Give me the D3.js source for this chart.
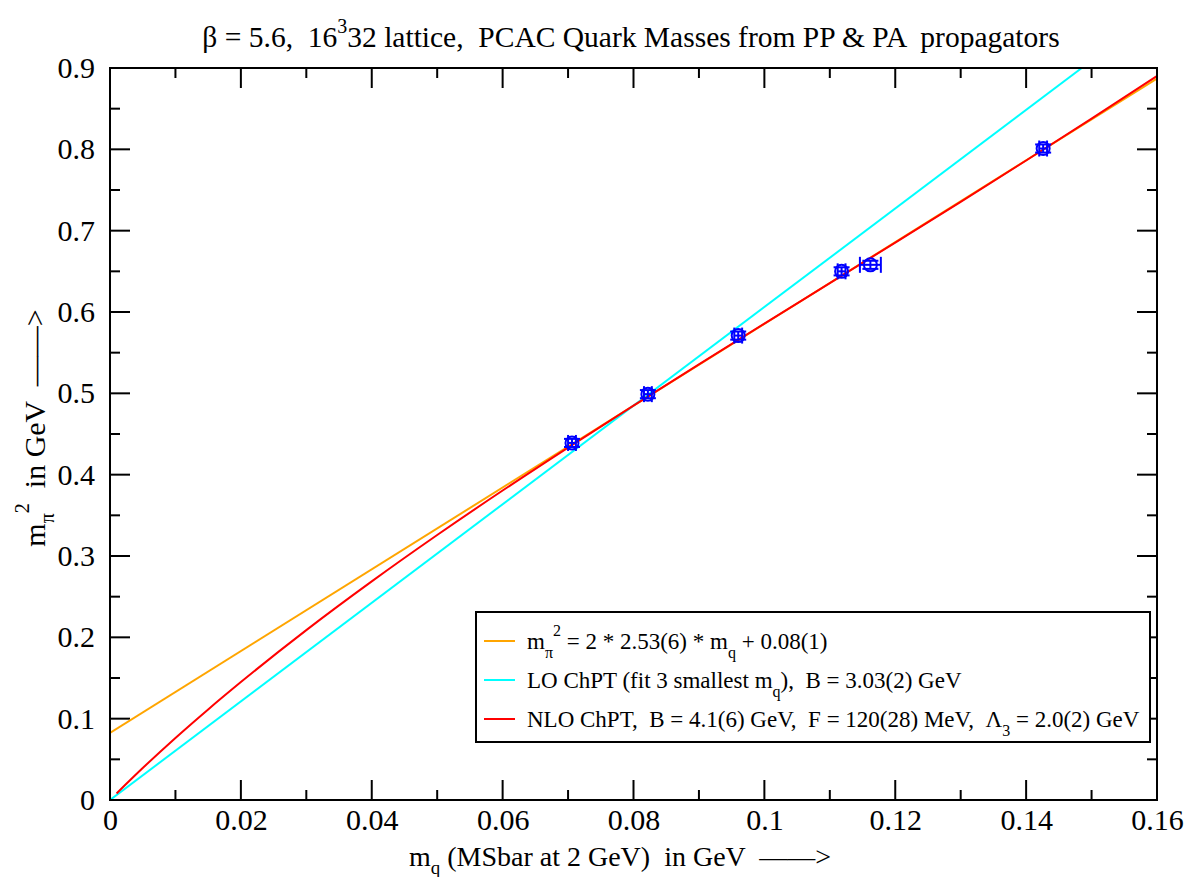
<!DOCTYPE html>
<html><head><meta charset="utf-8">
<script src="https://cdn.jsdelivr.net/npm/d3@7"></script>
<style>body{margin:0;background:#fff}svg{display:block}text{font-family:"Liberation Serif","DejaVu Serif",serif;white-space:pre}</style>
</head><body>
<script>
// ---- data ----
const mq       = [0.0706, 0.0822, 0.0960, 0.1118, 0.1162, 0.1426];
const mqErr    = [0.0006, 0.0006, 0.0006, 0.0006, 0.0016, 0.0006];
const mpi2     = [0.439, 0.499, 0.571, 0.650, 0.658, 0.801];
const mpi2Err  = [0.005, 0.005, 0.005, 0.005, 0.005, 0.005];
// linear fit (orange) end points
const fitX     = [0, 0.16];
const fitY     = [0.0825, 0.887];
// LO ChPT (cyan) end points
const loX      = [0, 0.1485];
const loY      = [0, 0.9];
// NLO ChPT (red) curve
const nloX = [0.001,0.005,0.01,0.015,0.02,0.03,0.04,0.05,0.06,0.07,0.08,0.09,0.10,0.11,0.12,0.13,0.14,0.15,0.16];
const nloY = [0.0081,0.0393,0.0763,0.1114,0.145,0.2089,0.2688,0.3258,0.3805,0.4333,0.4849,0.5356,0.5857,0.6355,0.6854,0.7355,0.7863,0.8378,0.8901];
const xTicks = [0,0.02,0.04,0.06,0.08,0.1,0.12,0.14,0.16];
const yTicks = [0,0.1,0.2,0.3,0.4,0.5,0.6,0.7,0.8,0.9];

const W=1187,H=877;
const L=110,R=1157,T=68,B=800;
const svg=d3.select("body").append("svg").attr("width",W).attr("height",H);
const x=d3.scaleLinear().domain([0,0.16]).range([L,R]);
const y=d3.scaleLinear().domain([0,0.9]).range([B,T]);

svg.append("defs").append("clipPath").attr("id","clip").append("rect")
  .attr("x",L).attr("y",T).attr("width",R-L).attr("height",B-T);

const fmt=d=>d===0?"0":String(+d.toFixed(2));
const minorX=d3.range(0,0.1601,0.01), minorY=d3.range(0,0.901,0.05);
(function tickLines(){
  const g=svg.append("g").attr("stroke","#000").attr("stroke-width",2);
  minorX.forEach(v=>{const big=xTicks.some(t=>Math.abs(t-v)<1e-9);const len=big?20:10;
    g.append("line").attr("x1",x(v)).attr("x2",x(v)).attr("y1",B).attr("y2",B-len);
    g.append("line").attr("x1",x(v)).attr("x2",x(v)).attr("y1",T).attr("y2",T+len);});
  minorY.forEach(v=>{const big=yTicks.some(t=>Math.abs(t-v)<1e-9);const len=big?20:10;
    g.append("line").attr("y1",y(v)).attr("y2",y(v)).attr("x1",L).attr("x2",L+len);
    g.append("line").attr("y1",y(v)).attr("y2",y(v)).attr("x1",R).attr("x2",R-len);});
})();

const xa=d3.axisBottom(x).tickValues(xTicks).tickSize(0).tickPadding(9).tickFormat(fmt);
svg.append("g").attr("transform",`translate(0,${B})`).call(xa)
  .call(g=>{g.select(".domain").remove();g.selectAll("text").attr("font-size",30).attr("fill","#000").attr("font-family","Liberation Serif");});
const ya=d3.axisLeft(y).tickValues(yTicks).tickSize(0).tickPadding(15).tickFormat(fmt);
svg.append("g").attr("transform",`translate(${L},0)`).call(ya)
  .call(g=>{g.select(".domain").remove();g.selectAll("text").attr("font-size",30).attr("fill","#000").attr("font-family","Liberation Serif");});

// curves
const line=d3.line().x(d=>x(d[0])).y(d=>y(d[1]));
const plot=svg.append("g").attr("clip-path","url(#clip)");
plot.append("path").datum(fitX.map((v,i)=>[v,fitY[i]])).attr("d",line).attr("fill","none").attr("stroke","#ffa500").attr("stroke-width",2);
plot.append("path").datum(loX.map((v,i)=>[v,loY[i]])).attr("d",line).attr("fill","none").attr("stroke","#00ffff").attr("stroke-width",2);
plot.append("path").datum(nloX.map((v,i)=>[v,nloY[i]])).attr("d",d3.line().x(d=>x(d[0])).y(d=>y(d[1])).curve(d3.curveMonotoneX)).attr("fill","none").attr("stroke","#ff0000").attr("stroke-width",2);

// data points
const pts=mq.map((v,i)=>({x:v,ex:mqErr[i],y:mpi2[i],ey:mpi2Err[i]}));
const cap=8;
const pg=svg.append("g").attr("stroke","#0000ff").attr("stroke-width",2).attr("fill","none");
pts.forEach(p=>{
  const cx=x(p.x),cy=y(p.y),x0=x(p.x-p.ex),x1=x(p.x+p.ex),y0=y(p.y-p.ey),y1=y(p.y+p.ey);
  pg.append("line").attr("x1",x0).attr("x2",x1).attr("y1",cy).attr("y2",cy);
  pg.append("line").attr("x1",x0).attr("x2",x0).attr("y1",cy-cap).attr("y2",cy+cap);
  pg.append("line").attr("x1",x1).attr("x2",x1).attr("y1",cy-cap).attr("y2",cy+cap);
  pg.append("line").attr("x1",cx).attr("x2",cx).attr("y1",y0).attr("y2",y1);
  pg.append("line").attr("x1",cx-cap).attr("x2",cx+cap).attr("y1",y0).attr("y2",y0);
  pg.append("line").attr("x1",cx-cap).attr("x2",cx+cap).attr("y1",y1).attr("y2",y1);
  pg.append("circle").attr("cx",cx).attr("cy",cy).attr("r",6.5);
});

// frame
svg.append("rect").attr("x",L).attr("y",T).attr("width",R-L).attr("height",B-T).attr("fill","none").attr("stroke","#000").attr("stroke-width",2);

// legend
const lg=svg.append("g");
lg.append("rect").attr("x",476).attr("y",612).attr("width",674).attr("height",130).attr("fill","#fff").attr("stroke","#000").attr("stroke-width",2);
const legCols=["#ffa500","#00ffff","#ff0000"];
const legY=[641,680,719];
legCols.forEach((c,i)=>lg.append("line").attr("x1",484).attr("x2",515).attr("y1",legY[i]).attr("y2",legY[i]).attr("stroke",c).attr("stroke-width",2));
const fs=23, ss=16;
function legText(yy,parts){
  const t=lg.append("text").attr("x",527).attr("y",yy+8).attr("font-size",fs).attr("fill","#000");
  parts.forEach(p=>{
    const s=t.append("tspan").text(p.t);
    if(p.dy){s.attr("dy",p.dy).attr("font-size",p.fs||ss);}
  });
  return t;
}
legText(legY[0],[{t:"m"},{t:"π",dy:9,fs:ss},{t:"2",dy:-22,fs:ss},{t:" = 2 * 2.53(6) * m",dy:13,fs:fs},{t:"q",dy:9,fs:ss},{t:" + 0.08(1)",dy:-9,fs:fs}]);
legText(legY[1],[{t:"LO ChPT (fit 3 smallest m"},{t:"q",dy:9,fs:ss},{t:"),  B = 3.03(2) GeV",dy:-9,fs:fs}]);
legText(legY[2],[{t:"NLO ChPT,  B = 4.1(6) GeV,  F = 120(28) MeV,  Λ"},{t:"3",dy:9,fs:ss},{t:" = 2.0(2) GeV",dy:-9,fs:fs}]);

// title
const tt=svg.append("text").attr("x",631).attr("y",47).attr("text-anchor","middle").attr("font-size",29.5).attr("fill","#000");
tt.append("tspan").text("β = 5.6,  16");
tt.append("tspan").text("3").attr("dy",-14).attr("font-size",20);
tt.append("tspan").text("32 lattice,  PCAC Quark Masses from PP & PA  propagators").attr("dy",14).attr("font-size",29.5);

// x label
const xl=svg.append("text").attr("x",620).attr("y",866).attr("text-anchor","middle").attr("font-size",28).attr("fill","#000");
xl.append("tspan").text("m");
xl.append("tspan").text("q").attr("dy",8).attr("font-size",19);
xl.append("tspan").text(" (MSbar at 2 GeV)  in GeV  ——>").attr("dy",-8).attr("font-size",28);

// y label
const yl=svg.append("text").attr("transform","translate(45,428) rotate(-90)").attr("text-anchor","middle").attr("font-size",30).attr("fill","#000");
yl.append("tspan").text("m");
yl.append("tspan").text("π").attr("dy",9).attr("font-size",20);
yl.append("tspan").text("2").attr("dy",-25).attr("font-size",20);
yl.append("tspan").text("  in GeV  ——>").attr("dy",16).attr("font-size",30);
</script>
</body></html>
